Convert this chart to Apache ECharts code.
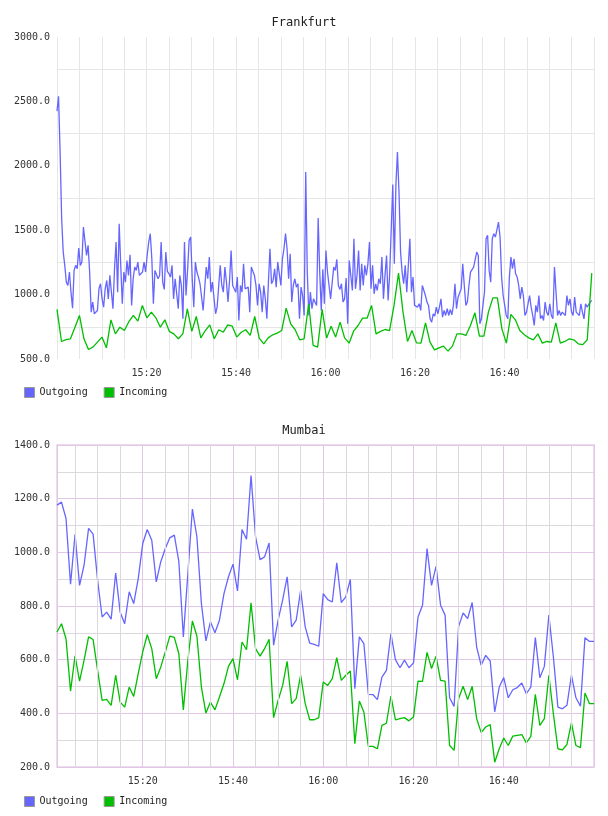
<!DOCTYPE html>
<html>
<head>
<meta charset="utf-8">
<script src="https://cdn.jsdelivr.net/npm/echarts@6/dist/echarts.min.js"></script>
<style>
  html, body { margin: 0; padding: 0; background: #fff; }
  #chart { width: 608px; height: 816px; }
</style>
</head>
<body>
<div id="chart"></div>
<script>
// minutes after 15:00
const fraOutSpan = [0, 119.5]
const fraInSpan = [0, 119.5]
const mumSpan = [1, 120]

const fraOutgoing = [
  2424,2540,2107,1589,1330,1227,1097,1071,1175,1019,
  895,1188,1227,1201,1361,1227,1252,1525,1512,1304,
  1382,1175,864,942,851,851,877,1045,1084,967,
  903,1045,1110,967,1149,1019,890,1201,1408,1019,
  1550,1227,929,1175,1097,1265,1149,1309,916,1123,
  1214,1188,1252,1149,1136,1175,1252,1175,1304,1408,
  1473,1278,929,1188,1188,1123,1149,1408,1097,1040,
  1330,1180,1162,1136,1227,967,1123,1136,890,1149,
  1071,812,1408,993,1188,1421,1447,1123,903,1252,
  1175,1136,1084,1097,877,1045,1214,1123,1291,1019,
  1097,1097,851,903,916,1227,1071,1019,1214,1097,
  942,1110,1343,1071,1071,1019,1136,799,1071,1019,
  1239,1045,1045,1058,864,1214,1227,1149,1071,916,
  1084,1019,864,1071,967,812,1097,1356,1084,1110,
  1201,1058,1252,1252,1071,1278,1356,1473,1356,1123,
  1317,942,1071,1123,1058,1084,812,1058,993,838,
  1952,1175,838,1019,890,967,967,916,
  1594,1175,877,1196,929,1343,1175,1071,967,967,
  1214,1188,1273,1071,1040,1084,942,967,1128,773,
  1265,1278,1032,1434,1045,1149,1343,1032,1239,1071,
  1227,1149,1239,1408,1045,1227,1006,1084,1032,1123,
  1084,1291,967,1149,1304,955,1162,1175,1854,1239,
  1848,2107,1797,1330,1175,1084,1227,1019,1227,1434,
  1019,1136,916,929,903,929,877,1071,1058,993,
  942,916,812,786,851,833,903,851,903,967,
  825,877,838,890,838,885,843,916,1084,890,
  980,967,1045,1239,1071,916,942,1071,1175,1162,
  1214,1227,1330,1304,773,812,916,1019,1434,1460,
  1188,1097,1434,1473,1447,1460,1563,1447,1136,993,
  916,838,812,1136,1291,1201,1278,1162,1136,1071,
  967,1058,993,838,864,851,993,903,838,760,
  916,864,993,812,838,799,942,864,838,929,
  838,812,1214,1019,838,877,838,864,864,838,
  993,916,967,864,838,980,864,864,838,929,
  864,812,929,903,903,942,955
]

const fraIncoming = [
  885,636,651,657,747,838,657,574,592,631,
  670,587,804,695,747,721,791,838,794,916,
  820,864,820,747,804,714,695,657,695,890,
  714,830,664,721,765,657,727,708,765,755,
  670,708,727,683,830,662,618,664,688,701,
  721,895,773,727,649,657,929,605,592,885,
  662,755,670,786,664,623,716,760,817,817,
  916,695,714,729,721,916,1167,864,636,721,
  625,623,781,631,571,587,600,561,600,695,
  695,683,760,859,677,677,864,975,975,734,
  623,846,804,721,688,664,649,695,623,636,
  631,781,623,636,657,649,618,612,649,1167
]

const mumOutgoing = [
  1176,1187,1126,881,1067,877,952,1089,1068,896,
  759,777,751,923,777,734,853,809,902,1033,
  1085,1045,890,965,1014,1054,1064,965,685,921,
  1161,1058,809,670,741,700,747,846,909,956,
  856,1085,1049,1286,1058,973,983,1035,654,747,
  822,909,722,747,859,722,662,657,650,846,
  824,815,961,813,834,899,492,685,660,471,
  470,451,535,560,697,600,570,598,570,588,
  759,803,1014,877,948,803,766,458,426,724,
  774,753,813,647,579,616,595,405,498,533,
  458,488,496,513,473,498,682,533,575,766,
  610,423,417,430,542,458,427,682,668,668
]

const mumIncoming = [
  703,734,678,483,614,520,598,685,675,560,
  448,452,430,542,442,423,498,463,548,629,
  693,641,529,573,629,688,683,622,413,598,
  744,688,498,401,442,413,461,511,575,604,
  525,666,637,812,641,613,641,676,384,448,
  504,594,436,455,542,436,376,376,384,517,
  504,529,608,523,542,558,287,446,405,277,
  277,268,355,363,464,376,380,384,372,386,
  520,519,627,567,613,523,520,280,262,455,
  501,451,501,380,328,349,358,218,268,308,
  280,315,318,321,290,314,471,355,380,542,
  398,268,264,284,364,280,272,476,436,436
]

const seriesNames = ['Outgoing', 'Incoming']
const seriesColors = ['#6666ff', '#00bf00']
const titles = ['Frankfurt', 'Mumbai']

const mono = 'DejaVu Sans Mono'
const lightGrid = '#e6e6e6'
const purpleGrid = '#e2c6e6'
const mumGray = '#ddd8de'

function spread(values, span) {
  const n = values.length
  return values.map((v, i) => [span[0] + (span[1] - span[0]) * i / (n - 1), v])
}

function timeLabel(v) {
  const h = 15 + Math.floor(v / 60)
  const m = Math.round(v % 60)
  return h + ':' + (m < 10 ? '0' + m : m)
}

const gray5min = []
for (let m = 5; m < 120; m += 5) {
  if (m % 20 !== 0) gray5min.push({ xAxis: m })
}

function lineSeries(name, idx, axisIndex, data) {
  return {
    name: name,
    type: 'line',
    xAxisIndex: axisIndex,
    yAxisIndex: axisIndex,
    data: data,
    showSymbol: false,
    symbol: 'none',
    color: seriesColors[idx],
    lineStyle: { color: seriesColors[idx], width: 1.3 },
    z: 3
  }
}

const yLabel = {
  fontFamily: mono, fontSize: 10, color: '#333', margin: 7,
  formatter: v => v.toFixed(1)
}
const xLabel = {
  fontFamily: mono, fontSize: 10, color: '#333', margin: 9,
  showMinLabel: false, showMaxLabel: false,
  formatter: timeLabel
}

const legendBase = {
  data: seriesNames,
  left: 19,
  icon: 'rect',
  itemWidth: 10,
  itemHeight: 10,
  itemGap: 16,
  itemStyle: { borderColor: '#999', borderWidth: 1 },
  textStyle: { fontFamily: mono, fontSize: 10, color: '#222' }
}

const option = {
  animation: false,
  backgroundColor: '#fff',
  title: [
    { text: titles[0], left: 'center', top: 12, textStyle: { fontFamily: mono, fontSize: 12, fontWeight: 'normal', color: '#222' } },
    { text: titles[1], left: 'center', top: 420, textStyle: { fontFamily: mono, fontSize: 12, fontWeight: 'normal', color: '#222' } }
  ],
  legend: [
    Object.assign({}, legendBase, { top: 382 }),
    Object.assign({}, legendBase, { top: 791 })
  ],
  grid: [
    { left: 57, top: 37, width: 537, height: 322, show: false },
    { left: 57, top: 445, width: 537, height: 322, show: true, borderColor: '#ecdcee', borderWidth: 2, backgroundColor: 'transparent' }
  ],
  xAxis: [
    {
      gridIndex: 0, type: 'value', min: 0, max: 120, interval: 20,
      axisLine: { show: false }, axisTick: { show: false },
      axisLabel: xLabel,
      splitLine: { show: true, lineStyle: { color: lightGrid, width: 1 } },
      minorTick: { show: false, splitNumber: 4 },
      minorSplitLine: { show: true, lineStyle: { color: lightGrid, width: 1 } }
    },
    {
      gridIndex: 1, type: 'value', min: mumSpan[0], max: mumSpan[1], splitNumber: 6,
      axisLine: { show: false }, axisTick: { show: false },
      axisLabel: xLabel,
      splitLine: { show: true, lineStyle: { color: purpleGrid, width: 1 } }
    }
  ],
  yAxis: [
    {
      gridIndex: 0, type: 'value', min: 500, max: 3000, interval: 500,
      axisLine: { show: false }, axisTick: { show: false },
      axisLabel: yLabel,
      splitLine: { show: false },
      minorTick: { show: false, splitNumber: 2 },
      minorSplitLine: { show: true, lineStyle: { color: lightGrid, width: 1 } }
    },
    {
      gridIndex: 1, type: 'value', min: 200, max: 1400, interval: 200,
      axisLine: { show: false }, axisTick: { show: false },
      axisLabel: yLabel,
      splitLine: { show: true, lineStyle: { color: purpleGrid, width: 1 } },
      minorTick: { show: false, splitNumber: 2 },
      minorSplitLine: { show: true, lineStyle: { color: mumGray, width: 1 } }
    }
  ],
  series: [
    {
      name: 'grid5', type: 'line', xAxisIndex: 1, yAxisIndex: 1, data: [], z: 1,
      markLine: {
        silent: true, symbol: 'none', animation: false,
        label: { show: false },
        lineStyle: { type: 'solid', color: mumGray, width: 1 },
        emphasis: { disabled: true },
        data: gray5min
      }
    },
    lineSeries(seriesNames[0], 0, 0, spread(fraOutgoing, fraOutSpan)),
    lineSeries(seriesNames[1], 1, 0, spread(fraIncoming, fraInSpan)),
    lineSeries(seriesNames[0], 0, 1, spread(mumOutgoing, mumSpan)),
    lineSeries(seriesNames[1], 1, 1, spread(mumIncoming, mumSpan))
  ]
}

const chart = echarts.init(document.getElementById('chart'))
chart.setOption(option)
window.addEventListener('resize', () => chart.resize())
</script>
</body>
</html>
